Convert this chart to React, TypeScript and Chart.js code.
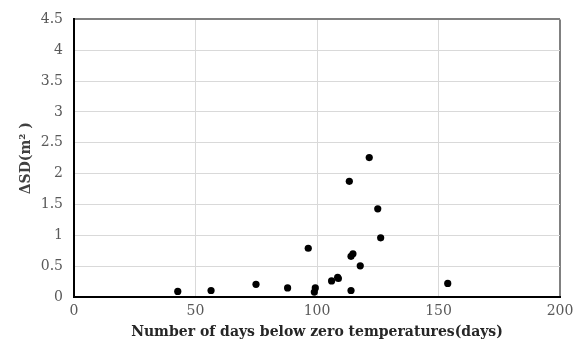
import React, { useEffect, useRef } from "react";
import { Chart, registerables } from "chart.js";

Chart.register(...registerables);

// Days below zero vs. change in surface deposit area
const daysBelowZero = [
  42.7, 56.4, 74.9, 87.9, 96.4, 98.9, 99.3, 106.0, 108.5, 108.8,
  113.3, 114.0, 114.0, 114.8, 117.8, 121.5, 125.0, 126.2, 153.8,
];
const deltaSD = [
  0.09, 0.105, 0.205, 0.147, 0.79, 0.08, 0.147, 0.26, 0.32, 0.30,
  1.875, 0.105, 0.66, 0.70, 0.505, 2.26, 1.43, 0.96, 0.22,
];

const xTitle = "Number of days below zero temperatures(days)";
const yTitle = "ΔSD(m² )";

const serif = "'DejaVu Serif', 'Liberation Serif', serif";

const plainNumber = (v: string | number) => String(Number(v));

export default function App() {
  const canvasRef = useRef<HTMLCanvasElement | null>(null);

  useEffect(() => {
    const canvas = canvasRef.current;
    if (!canvas) return;
    const points = daysBelowZero.map((x, i) => ({ x, y: deltaSD[i] }));

    const chart = new Chart(canvas, {
      type: "scatter",
      data: {
        datasets: [
          {
            data: points,
            backgroundColor: "#000000",
            borderColor: "#000000",
            pointRadius: 3.6,
            pointHoverRadius: 3.6,
            borderWidth: 0,
          },
        ],
      },
      options: {
        animation: false,
        responsive: false,
        maintainAspectRatio: false,
        layout: { padding: { top: 12, right: 24, left: 0, bottom: 0 } },
        plugins: {
          legend: { display: false },
          tooltip: { enabled: false },
        },
        scales: {
          x: {
            type: "linear",
            min: 0,
            max: 200,
            ticks: {
              stepSize: 50,
              color: "#595959",
              font: { family: serif, size: 14 },
              padding: 6,
              callback: plainNumber,
            },
            grid: {
              drawTicks: false,
              color: (ctx: any) =>
                ctx.tick && ctx.tick.value === 200 ? "#808080" : "#d9d9d9",
              lineWidth: (ctx: any) =>
                ctx.tick && ctx.tick.value === 200 ? 2 : 1,
            },
            border: { display: true, color: "#000000", width: 2 },
            title: {
              display: true,
              text: xTitle,
              color: "#262626",
              font: { family: serif, size: 14, weight: "bold" },
              padding: { top: 0, bottom: 0 },
            },
            afterFit: (scale: any) => {
              scale.height = 44;
            },
          },
          y: {
            type: "linear",
            min: 0,
            max: 4.5,
            ticks: {
              stepSize: 0.5,
              color: "#595959",
              font: { family: serif, size: 14 },
              padding: 11,
              callback: plainNumber,
            },
            grid: {
              drawTicks: false,
              color: (ctx: any) =>
                ctx.tick && ctx.tick.value === 4.5 ? "#808080" : "#d9d9d9",
              lineWidth: (ctx: any) =>
                ctx.tick && ctx.tick.value === 4.5 ? 2 : 1,
            },
            border: { display: true, color: "#000000", width: 2 },
            title: {
              display: true,
              text: yTitle,
              color: "#404040",
              font: { family: serif, size: 14, weight: "bold" },
              padding: { top: 18, bottom: 0 },
            },
            afterFit: (scale: any) => {
              scale.width = 74;
            },
          },
        },
      },
    });

    return () => chart.destroy();
  }, []);

  return (
    <div
      style={{
        position: "fixed",
        left: 0,
        top: 0,
        width: 584,
        height: 341,
        background: "#ffffff",
      }}
    >
      <canvas ref={canvasRef} width={584} height={341} />
    </div>
  );
}
